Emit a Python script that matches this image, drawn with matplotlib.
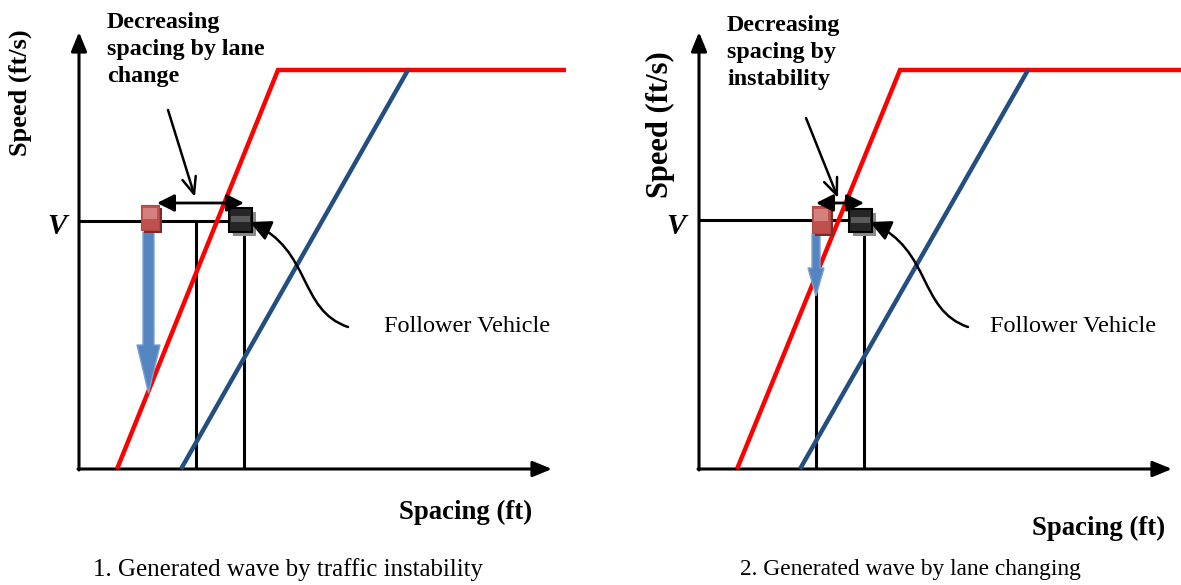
import matplotlib
matplotlib.use("Agg")
import matplotlib.pyplot as plt
from matplotlib.patches import FancyArrowPatch, FancyArrow, Rectangle
from matplotlib.path import Path

plt.rcParams['font.family'] = ['Liberation Serif', 'DejaVu Serif']

# ---- diagram data (pixel coordinates of the schematic, per panel) ----
origin_x = [79, 699]
origin_y = [469, 469]
yaxis_top = [32, 32]
xaxis_end = [552, 1172]

red_x = [[117, 278, 566], [737, 900, 1181]]
red_y = [[469, 70, 70], [469, 70, 70]]
blue_x = [[181, 408], [800, 1028]]
blue_y = [[469, 70], [469, 70]]

v_level = [221, 220]
v_line_end = [244, 864]
verticals = [[196, 244], [816, 864]]

red_marker = [(141, 205, 18, 25), (812, 206, 18, 27)]
black_marker = [(229, 208, 23, 24), (849, 209, 23, 23)]

blue_arrow = [(148.5, 232, 393), (816, 234, 296)]
blue_shaft_w = [11, 8]
blue_head_w = [23, 16]
blue_head_l = [48, 28]

double_arrow_y = [203, 203]
double_arrow_x = [(157, 244), (816, 864)]

note_line = [((168, 110), (195, 197)), ((806, 118), (838, 198))]
note_text = ["Decreasing\nspacing by lane\nchange", "Decreasing\nspacing by\ninstability"]
note_pos = [(107, 12), (727, 15)]

curve_pts = [[(348, 327), (298, 310), (312, 250), (250, 222)],
             [(968, 327), (918, 310), (932, 250), (870, 222)]]
follower_pos = [(384, 327), (990, 327)]

ylabel_pos = [(20, 93), (660, 125)]
ylabel_size = [19, 22]
xlabel_pos = [(466, 512), (1099, 528)]
v_pos = [(57, 226), (676, 226)]
captions = ["1. Generated wave by traffic instability", "2. Generated wave by lane changing"]
caption_pos = [(288, 570), (910, 570)]
caption_size = [17.9, 16.8]

fig = plt.figure(figsize=(11.81, 5.85), dpi=100)
ax = fig.add_axes([0, 0, 1, 1])
ax.set_xlim(0, 1181)
ax.set_ylim(585, 0)
ax.axis('off')

for p in range(2):
    ox, oy = origin_x[p], origin_y[p]
    # axes arrows
    ax.add_patch(FancyArrowPatch((ox, oy + 1), (ox, yaxis_top[p]), arrowstyle='-|>,head_length=1.1,head_width=0.45',
                                 mutation_scale=10.5, color='black', lw=2.2, shrinkA=0, shrinkB=0))
    ax.add_patch(FancyArrowPatch((ox - 1, oy), (xaxis_end[p], oy), arrowstyle='-|>,head_length=1.1,head_width=0.45',
                                 mutation_scale=10.5, color='black', lw=2.2, shrinkA=0, shrinkB=0))
    # V level and verticals
    ax.plot([ox, v_line_end[p]], [v_level[p], v_level[p]], color='black', lw=2.2, solid_capstyle='butt')
    for vx in verticals[p]:
        ax.plot([vx, vx], [v_level[p], oy], color='black', lw=2.2, solid_capstyle='butt')
    # curves
    ax.plot(red_x[p], red_y[p], color='#ff0000', lw=3.2, solid_capstyle='butt', solid_joinstyle='miter')
    ax.plot(blue_x[p], blue_y[p], color='#234f80', lw=3.2, solid_capstyle='butt')

    # blue arrow
    bx, by0, by1 = blue_arrow[p]
    ax.add_patch(FancyArrow(bx, by0, 0, by1 - by0, width=blue_shaft_w[p], head_width=blue_head_w[p],
                            head_length=blue_head_l[p], length_includes_head=True,
                            facecolor='#5585c0', edgecolor='#7aa2d4', lw=1, zorder=5))

    # markers
    x0, y0, w, h = red_marker[p]
    ax.add_patch(Rectangle((x0 + 3, y0 + 3), w, h, facecolor='#7a2a2a', edgecolor='none', zorder=6))
    ax.add_patch(Rectangle((x0, y0), w, h, facecolor='#c0504d', edgecolor='#b04644', lw=0.8, zorder=7))
    ax.add_patch(Rectangle((x0 + 2, y0 + 3), w - 4, h * 0.45, facecolor='#d4807e', edgecolor='none', zorder=7))
    x0, y0, w, h = black_marker[p]
    ax.add_patch(Rectangle((x0 + 4, y0 + 4), w, h, facecolor='#8a8a8a', edgecolor='none', zorder=6))
    ax.add_patch(Rectangle((x0, y0), w, h, facecolor='#262626', edgecolor='black', lw=1.5, zorder=7))
    ax.add_patch(Rectangle((x0 + 2, y0 + h * 0.35), w - 4, h * 0.25, facecolor='#5a5a5a', edgecolor='none', zorder=7))

    # double arrow
    xa, xb = double_arrow_x[p]
    ax.add_patch(FancyArrowPatch((xa, double_arrow_y[p]), (xb, double_arrow_y[p]),
                                 arrowstyle='<|-|>,head_length=1.1,head_width=0.55', mutation_scale=9.5,
                                 color='black', lw=2, shrinkA=0, shrinkB=0, zorder=8))
    # note arrow
    (sx, sy), (ex, ey) = note_line[p]
    ax.add_patch(FancyArrowPatch((sx, sy), (ex, ey), arrowstyle='->,head_length=1.2,head_width=0.5',
                                 mutation_scale=10, color='black', lw=1.8, shrinkA=0, shrinkB=0, zorder=8))
    ax.text(note_pos[p][0], note_pos[p][1], note_text[p], fontsize=17.3, fontweight='bold',
            ha='left', va='top', linespacing=1.36)

    # curved arrow to follower
    pts = curve_pts[p]
    path = Path(pts, [Path.MOVETO, Path.CURVE4, Path.CURVE4, Path.CURVE4])
    ax.add_patch(FancyArrowPatch(path=path, arrowstyle='-|>,head_length=1.2,head_width=0.6',
                                 mutation_scale=10.5, color='black', lw=1.8, zorder=8))
    ax.text(follower_pos[p][0], follower_pos[p][1], 'Follower Vehicle', fontsize=17.5, ha='left', va='center')

    # labels
    ax.text(ylabel_pos[p][0], ylabel_pos[p][1], 'Speed (ft/s)', fontsize=ylabel_size[p], fontweight='bold',
            rotation=90, ha='center', va='center')
    ax.text(xlabel_pos[p][0], xlabel_pos[p][1], 'Spacing (ft)', fontsize=19.3, fontweight='bold',
            ha='center', va='center')
    ax.text(v_pos[p][0], v_pos[p][1], 'V', fontsize=21, fontweight='bold', style='italic',
            ha='center', va='center')
    ax.text(caption_pos[p][0], caption_pos[p][1], captions[p], fontsize=caption_size[p], ha='center', va='center')

fig.savefig('out.png', dpi=100)
